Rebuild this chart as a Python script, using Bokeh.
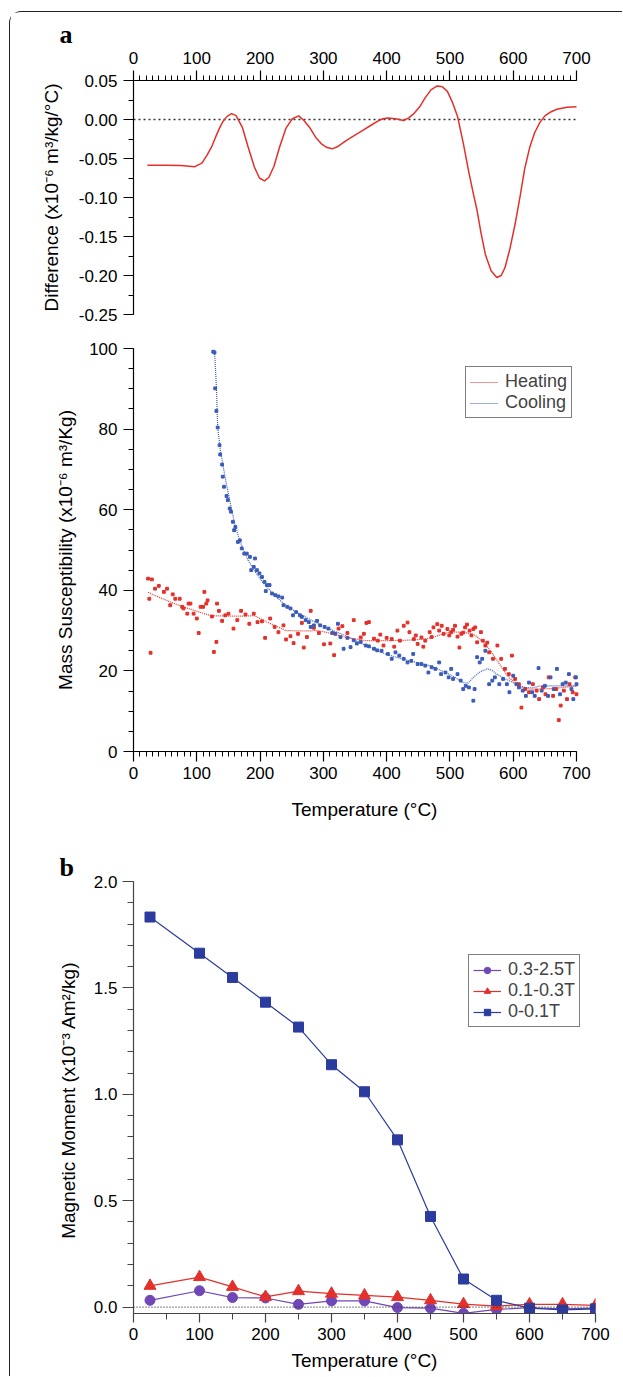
from bokeh.plotting import figure
from bokeh.models import (Range1d, SingleIntervalTicker, PrintfTickFormatter,
                          Span, Legend, LegendItem)
from bokeh.layouts import column
from bokeh.embed import file_html
from bokeh.resources import INLINE

FONT = "Liberation Sans"
SERIF = "Liberation Serif"

# axis limits of the temperature scale
T_MIN, T_MAX = 0, 700

# ---------------- Panel a (top): heating - cooling difference ----------------
diff_t = [22, 50, 75, 97, 108, 116, 124, 130, 136, 141,
          148, 155, 162, 172, 181, 191, 199, 207, 214, 222,
          231, 241, 251, 261, 269, 279, 288, 298, 306, 314,
          322, 336, 348, 361, 374, 386, 394, 402, 414, 427,
          435, 442, 452, 461, 470, 480, 488, 496, 504, 512,
          521, 530, 537, 543, 549, 556, 565, 574, 581, 587,
          595, 603, 611, 618, 626, 634, 642, 650, 660, 669,
          685, 700]
diff_v = [-0.0585, -0.0585, -0.059, -0.0605, -0.056, -0.046, -0.034, -0.022, -0.011, -0.003,
          0.004, 0.0075, 0.005, -0.010, -0.035, -0.061, -0.075, -0.0786, -0.074, -0.060,
          -0.035, -0.011, 0.001, 0.0047, -0.001, -0.011, -0.023, -0.032, -0.036, -0.0376,
          -0.035, -0.027, -0.021, -0.0145, -0.008, -0.002, 0.001, 0.002, 0.001, -0.0013,
          0.002, 0.0068, 0.016, 0.028, 0.038, 0.043, 0.042, 0.036, 0.022, 0.004,
          -0.030, -0.068, -0.095, -0.117, -0.145, -0.173, -0.194, -0.2026, -0.200, -0.190,
          -0.165, -0.134, -0.098, -0.0637, -0.036, -0.0167, -0.004, 0.0047, 0.010, 0.0132,
          0.0158, 0.0162]

# ---------------- Panel a (bottom): mass susceptibility ----------------
heat_t = [23, 25, 27, 29, 34, 40, 48, 53, 58, 62,
          66, 73, 77, 79, 85, 87, 90, 95, 100, 103,
          106, 110, 112, 115, 117, 124, 127, 131, 132, 135,
          140, 145, 150, 158, 164, 170, 177, 183, 190, 196,
          203, 208, 216, 223, 229, 237, 241, 248, 253, 260,
          266, 269, 274, 280, 285, 293, 301, 311, 317, 324,
          330, 338, 348, 359, 364, 368, 372, 380, 386, 390,
          395, 400, 408, 412, 417, 421, 427, 433, 436, 443,
          446, 449, 455, 458, 461, 468, 471, 474, 480, 483,
          487, 490, 496, 499, 502, 505, 508, 512, 515, 518,
          521, 524, 527, 531, 534, 537, 540, 543, 549, 552,
          556, 559, 562, 568, 575, 581, 587, 593, 598, 603,
          609, 613, 619, 625, 631, 637, 641, 647, 651, 656,
          663, 668, 672, 675, 680, 685, 689, 694, 698, 700]
heat_v = [42.9, 37.9, 24.5, 42.7, 40.4, 41.1, 39.6, 40.4, 36.3, 39.0,
          37.9, 37.9, 35.9, 35.5, 34.2, 36.7, 36.7, 34.2, 33.0, 29.4,
          35.9, 35.9, 39.6, 36.7, 37.5, 33.5, 24.7, 27.2, 36.7, 34.9,
          32.4, 33.8, 34.2, 30.5, 32.6, 34.9, 34.0, 31.7, 34.2, 32.1,
          32.3, 28.2, 33.0, 30.9, 29.6, 31.3, 27.8, 28.6, 26.9, 29.2,
          31.9, 25.8, 28.4, 34.9, 30.7, 29.4, 26.6, 26.8, 23.9, 30.5,
          31.1, 29.4, 32.6, 28.3, 29.2, 31.9, 32.1, 28.0, 27.5, 29.0,
          26.3, 28.2, 27.9, 26.0, 30.0, 27.5, 31.2, 32.0, 29.6, 27.9,
          28.8, 26.7, 28.3, 26.0, 27.5, 29.6, 28.4, 30.8, 31.6, 30.0,
          31.2, 29.2, 30.4, 28.8, 29.6, 30.2, 31.2, 28.5, 25.8, 29.2,
          29.5, 30.8, 31.5, 30.0, 28.8, 30.4, 30.8, 27.1, 29.6, 27.5,
          26.3, 27.0, 24.6, 23.0, 26.3, 23.0, 20.5, 19.2, 23.8, 18.0,
          16.7, 10.9, 15.5, 14.7, 16.7, 15.1, 13.0, 15.9, 14.2, 18.4,
          13.8, 15.5, 7.8, 11.4, 15.1, 13.0, 16.7, 14.7, 18.4, 14.2]

cool_t = [126, 128, 129, 131, 133, 136, 137, 140, 141, 143,
          147, 149, 152, 154, 157, 159, 161, 165, 168, 171,
          175, 179, 184, 186, 190, 192, 195, 199, 203, 207,
          209, 211, 215, 219, 224, 229, 235, 237, 243, 248,
          252, 257, 263, 266, 272, 277, 280, 285, 290, 295,
          302, 308, 314, 319, 323, 327, 332, 338, 343, 348,
          353, 359, 367, 372, 380, 385, 392, 402, 408, 414,
          420, 427, 433, 439, 442, 449, 455, 461, 466, 471,
          477, 483, 486, 493, 498, 502, 505, 512, 517, 521,
          525, 530, 537, 539, 543, 547, 551, 556, 562, 567,
          571, 578, 584, 590, 594, 600, 605, 609, 615, 620,
          625, 630, 634, 640, 645, 650, 655, 659, 664, 669,
          674, 678, 683, 688, 692, 695, 699, 700]
cool_v = [99.2, 99.0, 90.1, 84.5, 80.4, 76.0, 73.7, 71.2, 68.2, 65.7,
          63.4, 62.4, 60.3, 59.5, 57.0, 54.9, 55.7, 52.0, 52.4, 50.4,
          49.1, 49.1, 48.3, 45.0, 45.8, 47.9, 45.0, 44.2, 43.3, 42.1,
          39.8, 41.3, 41.3, 39.2, 38.8, 38.5, 38.2, 36.3, 35.9, 35.5,
          33.8, 34.6, 33.8, 33.4, 32.6, 32.1, 30.9, 31.3, 32.4, 31.3,
          30.9, 30.5, 29.4, 29.2, 31.7, 28.4, 25.5, 28.2, 25.9, 27.6,
          26.8, 27.2, 26.3, 26.1, 25.5, 25.1, 25.0, 24.2, 23.0, 24.6,
          23.8, 23.0, 22.1, 22.5, 24.2, 21.7, 21.7, 21.3, 19.6, 20.9,
          20.5, 22.1, 19.2, 19.6, 18.4, 20.5, 18.0, 19.2, 17.6, 15.5,
          16.3, 15.9, 12.6, 15.5, 23.4, 22.1, 23.0, 25.0, 16.7, 17.6,
          18.4, 16.7, 18.0, 16.7, 14.7, 18.8, 16.7, 15.9, 15.1, 13.8,
          17.1, 14.7, 13.8, 20.7, 15.1, 16.3, 13.8, 18.4, 15.5, 20.5,
          14.2, 16.7, 17.1, 19.2, 15.5, 13.0, 18.4, 16.7]

heat_fit_t = [23, 40, 60, 80, 100, 122, 150, 175, 191, 210,
              241, 270, 292, 315, 336, 367, 400, 430, 461, 480,
              499, 524, 540, 556, 565, 575, 584, 593, 603, 612,
              625, 637, 660, 680, 700]
heat_fit_v = [39.5, 38.3, 37.0, 35.8, 34.8, 33.7, 33.6, 33.6, 33.7, 32.2,
              30.0, 29.9, 30.0, 29.2, 28.3, 27.5, 27.5, 27.6, 27.9, 28.7,
              29.6, 29.6, 28.8, 26.7, 24.8, 22.5, 20.3, 18.4, 17.0, 15.9,
              15.5, 15.5, 15.6, 15.9, 16.3]

cool_fit_t = [128, 131, 133, 137, 141, 146, 150, 155, 160, 166,
              172, 181, 191, 203, 216, 228, 241, 257, 273, 288,
              304, 320, 336, 351, 367, 383, 398, 417, 436, 452,
              468, 480, 493, 507, 521, 529, 537, 548, 559, 566,
              574, 583, 593, 605, 618, 630, 644, 660, 680, 700]
cool_fit_v = [99.6, 90.5, 80.5, 75.0, 71.4, 67.0, 64.0, 60.0, 56.5, 53.3,
              50.7, 47.5, 44.9, 42.2, 39.9, 38.0, 36.2, 34.6, 33.3, 32.0,
              30.8, 29.7, 28.7, 27.5, 26.3, 25.2, 24.2, 23.3, 22.5, 21.9,
              21.3, 20.5, 19.6, 18.5, 17.1, 17.0, 18.4, 19.8, 20.5, 20.2,
              19.2, 18.4, 17.6, 16.7, 15.9, 15.8, 16.3, 16.3, 16.3, 16.3]

# ---------------- Panel b: magnetic moment ----------------
step_t = [25, 100, 150, 200, 250, 300, 350, 400, 450, 500, 550, 600, 650, 700]
m_hard = [0.032, 0.077, 0.045, 0.043, 0.013, 0.029, 0.029, -0.002, -0.005, -0.029, -0.011, -0.003, -0.008, -0.005]
m_mid = [0.100, 0.141, 0.095, 0.048, 0.075, 0.063, 0.055, 0.047, 0.032, 0.014, 0.005, 0.013, 0.013, 0.008]
m_soft = [1.833, 1.663, 1.549, 1.433, 1.316, 1.139, 1.012, 0.786, 0.426, 0.132, 0.032, -0.005, -0.013, -0.008]
series_labels = ["0.3-2.5T", "0.1-0.3T", "0-0.1T"]

RED = "#E3302A"
BLUE = "#3B5BB8"
NAVY = "#2B3C9E"
PURPLE = "#7047B6"


def style_axis(ax, major_out=10, minor_out=5, standoff=5, label_standoff=10, color="black"):
    ax.axis_line_color = color
    ax.axis_line_width = 1.2
    ax.major_tick_line_color = color
    ax.minor_tick_line_color = color
    ax.major_tick_line_width = 1.2
    ax.minor_tick_line_width = 1
    ax.major_tick_in = 0
    ax.minor_tick_in = 0
    ax.major_tick_out = major_out
    ax.minor_tick_out = minor_out
    ax.major_label_text_font = FONT
    ax.major_label_text_font_size = "17px"
    ax.major_label_text_color = "black"
    ax.major_label_standoff = standoff
    ax.axis_label_text_font = FONT
    ax.axis_label_text_font_size = "19px"
    ax.axis_label_text_font_style = "normal"
    ax.axis_label_text_color = "black"
    ax.axis_label_standoff = label_standoff


def base(p, letter):
    p.xgrid.visible = False
    p.ygrid.visible = False
    p.outline_line_color = None
    p.background_fill_color = "white"
    p.border_fill_color = "white"
    p.title.text = letter
    p.title.text_font = SERIF
    p.title.text_font_style = "bold"
    p.title.text_font_size = "26px"
    p.title.text_color = "black"
    p.title.align = "left"
    p.title.offset = -74
    p.title.standoff = 0


W = 612
FRAME_W = 462          # panel b frame width (px); panel a is narrower in temperature scale
SCALE_A = 443 / 700    # px per degree in panel a
X_A_MAX = FRAME_W / SCALE_A

# ---------- figure 1 ----------
p1 = figure(width=W, height=318, x_range=Range1d(T_MIN, X_A_MAX), y_range=Range1d(-0.25, 0.05),
            x_axis_location="above", output_backend="svg", toolbar_location=None,
            min_border_left=123, min_border_right=W - 123 - FRAME_W, min_border_top=68,
            min_border_bottom=16)
base(p1, "a")
p1.xaxis.ticker = SingleIntervalTicker(interval=100, num_minor_ticks=10)
p1.xaxis.bounds = (T_MIN, T_MAX)
p1.yaxis.ticker = SingleIntervalTicker(interval=0.05, num_minor_ticks=2)
p1.yaxis.formatter = PrintfTickFormatter(format="%.2f")
style_axis(p1.xaxis[0], standoff=7)
style_axis(p1.yaxis[0], standoff=6, label_standoff=14)
p1.yaxis.axis_label = "Difference (x10\u207b\u2076 m\u00b3/kg/\u00b0C)"
p1.line([T_MIN, T_MAX], [0, 0], line_color="#333333", line_dash="2 3", line_width=1.3)
p1.line(diff_t, diff_v, color=RED, line_width=1.5)

# ---------- figure 2 ----------
p2 = figure(width=W, height=514, x_range=Range1d(T_MIN, X_A_MAX), y_range=Range1d(0, 100),
            output_backend="svg", toolbar_location=None,
            min_border_left=123, min_border_right=W - 123 - FRAME_W, min_border_top=18,
            min_border_bottom=93)
base(p2, "")
p2.xaxis.ticker = SingleIntervalTicker(interval=100, num_minor_ticks=10)
p2.xaxis.bounds = (T_MIN, T_MAX)
p2.yaxis.ticker = SingleIntervalTicker(interval=20, num_minor_ticks=4)
style_axis(p2.xaxis[0], standoff=5, label_standoff=17)
style_axis(p2.yaxis[0], standoff=6, label_standoff=10)
p2.xaxis.axis_label = "Temperature (\u00b0C)"
p2.yaxis.axis_label = "Mass Susceptibility (x10\u207b\u2076 m\u00b3/Kg)"
p2.scatter(heat_t, heat_v, marker="square", size=2.8, color=RED)
p2.scatter(cool_t, cool_v, marker="square", size=2.8, color=BLUE)
r_hf = p2.line(heat_fit_t, heat_fit_v, color=RED, line_width=1.2, line_dash="1 1")
r_cf = p2.line(cool_fit_t, cool_fit_v, color=BLUE, line_width=1.2, line_dash="1 1")
leg2 = Legend(items=[LegendItem(label="Heating", renderers=[r_hf]),
                     LegendItem(label="Cooling", renderers=[r_cf])],
              location=(332, 333))
p2.add_layout(leg2)

# ---------- figure 3 ----------
p3 = figure(width=W, height=532, x_range=Range1d(T_MIN, T_MAX), y_range=Range1d(-0.03, 2.0),
            output_backend="svg", toolbar_location=None,
            min_border_left=123, min_border_right=W - 123 - FRAME_W, min_border_top=37,
            min_border_bottom=63)
base(p3, "b")
p3.xaxis.ticker = SingleIntervalTicker(interval=100, num_minor_ticks=2)
p3.yaxis.ticker = SingleIntervalTicker(interval=0.5, num_minor_ticks=5)
p3.yaxis.formatter = PrintfTickFormatter(format="%.1f")
style_axis(p3.xaxis[0], major_out=9, minor_out=6, standoff=5, label_standoff=7, color="#444444")
style_axis(p3.yaxis[0], major_out=11, minor_out=6, standoff=5, label_standoff=12, color="#444444")
p3.xaxis.axis_label = "Temperature (\u00b0C)"
p3.yaxis.axis_label = "Magnetic Moment (x10\u207b\u00b3  Am\u00b2/kg)"
p3.add_layout(Span(location=0, dimension="width", line_color="#333333",
                   line_dash="1 2", line_width=1.2))
l_h = p3.line(step_t, m_hard, color=PURPLE, line_width=1.2)
s_h = p3.scatter(step_t, m_hard, marker="circle", size=10, color=PURPLE)
l_m = p3.line(step_t, m_mid, color=RED, line_width=1.2)
s_m = p3.scatter(step_t, m_mid, marker="triangle", size=12, color=RED)
l_s = p3.line(step_t, m_soft, color=NAVY, line_width=1.2)
s_s = p3.scatter(step_t, m_soft, marker="square", size=10, color=NAVY)
leg3 = Legend(items=[LegendItem(label=series_labels[0], renderers=[l_h, s_h]),
                     LegendItem(label=series_labels[1], renderers=[l_m, s_m]),
                     LegendItem(label=series_labels[2], renderers=[l_s, s_s])],
              location=(335, 286))
p3.add_layout(leg3)

for lg in [leg2, leg3]:
    lg.border_line_color = "black"
    lg.border_line_width = 1.5
    lg.background_fill_color = "white"
    lg.background_fill_alpha = 1
    lg.padding = 4
    lg.margin = 0
    lg.spacing = 0
    lg.label_text_font = FONT
    lg.label_text_font_size = "18px"
    lg.label_standoff = 7
    lg.glyph_width = 28
    lg.glyph_height = 16
    lg.label_height = 16

layout = column(p1, p2, p3, spacing=0, margin=(11, 0, 0, 9),
                styles={"border-left": "1px solid #222222", "border-top": "1px solid #222222",
                        "border-top-left-radius": "12px"})

open("out.html", "w").write(file_html(layout, INLINE))
